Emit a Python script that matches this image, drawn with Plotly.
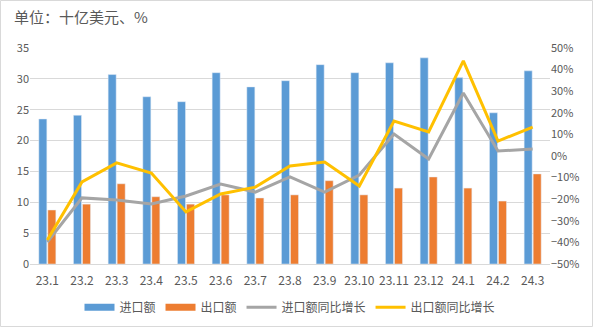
import plotly.graph_objects as go

categories = ["23.1", "23.2", "23.3", "23.4", "23.5", "23.6", "23.7", "23.8",
              "23.9", "23.10", "23.11", "23.12", "24.1", "24.2", "24.3"]
imports = [23.5, 24.1, 30.7, 27.1, 26.3, 31.0, 28.7, 29.7, 32.3, 31.0, 32.6, 33.4, 30.2, 24.5, 31.3]
exports = [8.75, 9.7, 13.0, 10.9, 9.7, 11.2, 10.7, 11.2, 13.5, 11.2, 12.3, 14.1, 12.3, 10.2, 14.6]
imports_yoy = [-39.8, -19.4, -20.4, -22.2, -18.5, -13.0, -16.7, -9.7, -16.7, -8.8, 10.2, -1.4, 29.2, 2.3, 3.2]
exports_yoy = [-38.9, -12.0, -3.2, -7.9, -25.9, -17.6, -14.4, -4.6, -2.8, -13.9, 16.2, 11.1, 44.0, 6.9, 13.4]
left_ticks = [0, 5, 10, 15, 20, 25, 30, 35]
right_ticks = [-50, -40, -30, -20, -10, 0, 10, 20, 30, 40, 50]
right_labels = [f"{v}%".replace("-", "\u2212") for v in right_ticks]

FONT = "Noto Sans CJK SC, Liberation Sans, sans-serif"
TXT = "#595959"
BLUE, ORANGE, GRAY, YELLOW = "#5B9BD5", "#ED7D31", "#A5A5A5", "#FFC000"

fig = go.Figure()
fig.add_trace(go.Bar(x=categories, y=imports, name="进口额", marker_color=BLUE,
                     showlegend=False, legendgroup="imp"))
fig.add_trace(go.Bar(x=categories, y=exports, name="出口额", marker_color=ORANGE,
                     showlegend=False, legendgroup="exp"))
# legend-only entries drawn as wide swatches like the reference
fig.add_trace(go.Scatter(x=[None], y=[None], name="进口额", mode="lines",
                         line=dict(color=BLUE, width=7), legendgroup="imp"))
fig.add_trace(go.Scatter(x=[None], y=[None], name="出口额", mode="lines",
                         line=dict(color=ORANGE, width=7), legendgroup="exp"))
fig.add_trace(go.Scatter(x=categories, y=imports_yoy, name="进口额同比增长", mode="lines",
                         line=dict(color=GRAY, width=3), yaxis="y2"))
fig.add_trace(go.Scatter(x=categories, y=exports_yoy, name="出口额同比增长", mode="lines",
                         line=dict(color=YELLOW, width=3), yaxis="y2"))

L, R, T, B = 30, 43, 48, 63
W, H = 593, 327
pw, ph = W - L - R, H - T - B

fig.update_layout(
    width=W, height=H,
    margin=dict(l=L, r=R, t=T, b=B, pad=0, autoexpand=False),
    paper_bgcolor="white", plot_bgcolor="white",
    font=dict(family=FONT, color=TXT, size=11),
    barmode="group", bargap=0.48, bargroupgap=0.11,
    showlegend=True,
    legend=dict(orientation="h", x=0.5, xanchor="center", y=-0.2, yanchor="middle",
                font=dict(size=12, color=TXT), itemwidth=30, tracegroupgap=0),
    title=dict(text="单位：十亿美元、%", x=14 / W, xanchor="left", y=1 - 18 / H, yanchor="middle",
               font=dict(size=15, color=TXT, family=FONT)),
    xaxis=dict(type="category", showgrid=False, showline=True, linecolor="#D9D9D9", linewidth=1,
               ticks="", tickangle=0, automargin=False, ticklabelstandoff=6,
               tickfont=dict(size=12, color=TXT), fixedrange=True),
    yaxis=dict(range=[0, 35], tickvals=left_ticks, showgrid=True, gridcolor="#D9D9D9", gridwidth=1,
               zeroline=False, showline=False, ticks="", automargin=False,
               tickfont=dict(size=11, color=TXT)),
    yaxis2=dict(range=[-50, 50], tickvals=right_ticks, ticktext=right_labels, overlaying="y",
                side="right", showgrid=False, zeroline=False, showline=False, ticks="",
                automargin=False, tickfont=dict(size=11, color=TXT)),
    shapes=[dict(type="rect", xref="paper", yref="paper",
                 x0=(-L + 0.5) / pw, x1=1 + (R - 0.5) / pw,
                 y0=(-B + 0.5) / ph, y1=1 + (T - 0.5) / ph,
                 line=dict(color="#D9D9D9", width=1), fillcolor="rgba(0,0,0,0)", layer="below")],
)

fig.write_html("out.html")
